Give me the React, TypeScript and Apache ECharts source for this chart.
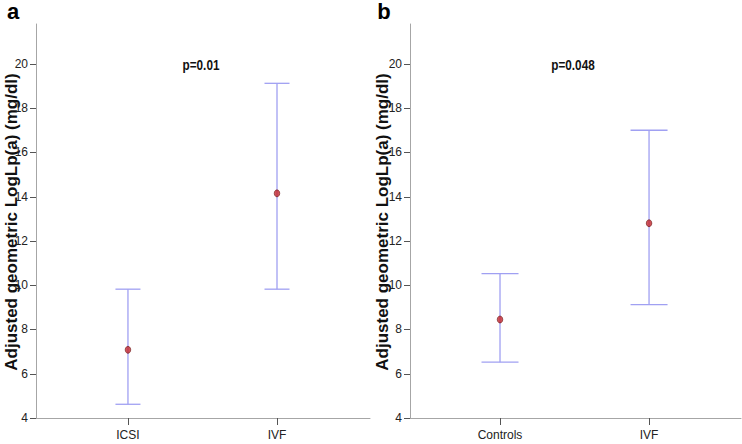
import React, { useEffect, useRef } from "react";
import * as echarts from "echarts";

const catsA = ["ICSI", "IVF"];
const meanA = [7.08, 14.15];
const lowA = [4.62, 9.82];
const highA = [9.82, 19.12];

const catsB = ["Controls", "IVF"];
const meanB = [8.45, 12.8];
const lowB = [6.52, 9.12];
const highB = [10.52, 17.0];

const yTicks = [4, 6, 8, 10, 12, 14, 16, 18, 20];
const pA = "p=0.01";
const pB = "p=0.048";
const yTitle = "Adjusted geometric LogLp(a) (mg/dl)";

const BAR = "#a0a0f2";
const AXIS = "#a6a6a6";
const SANS = "'Liberation Sans', Arial, sans-serif";
const X_RANGES = [
  [-0.617, 1.624],
  [-0.604, 1.617],
];

export default function App() {
  const ref = useRef<HTMLDivElement>(null);
  useEffect(() => {
    if (!ref.current) return;
    const chart = echarts.init(ref.current, null, { renderer: "svg" });

    const errRender = (half: number) => (params: any, api: any) => {
      const x = api.value(0);
      const lo = api.coord([x, api.value(1)]);
      const hi = api.coord([x, api.value(2)]);
      const style = { stroke: BAR, lineWidth: 1.3, fill: "none" };
      return {
        type: "group",
        children: [
          { type: "line", shape: { x1: lo[0], y1: lo[1], x2: hi[0], y2: hi[1] }, style },
          { type: "line", shape: { x1: lo[0] - half, y1: lo[1], x2: lo[0] + half, y2: lo[1] }, style },
          { type: "line", shape: { x1: hi[0] - half, y1: hi[1], x2: hi[0] + half, y2: hi[1] }, style },
        ],
      };
    };

    const xAxisBase = (cats: string[], idx: number) => ({
      type: "value",
      gridIndex: idx,
      min: X_RANGES[idx][0],
      max: X_RANGES[idx][1],
      splitLine: { show: false },
      axisLine: { show: true, onZero: false, lineStyle: { color: AXIS, width: 1 } },
      axisTick: { show: true, customValues: cats.map((_, i) => i), length: 7, lineStyle: { color: "#555" } },
      axisLabel: {
        show: true,
        customValues: cats.map((_, i) => i),
        formatter: (v: number) => cats[Math.round(v)] ?? "",
        fontFamily: SANS,
        fontSize: 12,
        color: "#222",
        margin: 11,
      },
    });

    const yAxisBase = (idx: number) => ({
      type: "value",
      gridIndex: idx,
      min: yTicks[0],
      max: 21.8,
      interval: 2,
      splitLine: { show: false },
      axisLine: { show: true, onZero: false, lineStyle: { color: AXIS, width: 1 } },
      axisTick: { show: false },
      axisLabel: {
        customValues: yTicks,
        fontFamily: SANS,
        fontSize: 12,
        color: "#222",
        margin: 8,
      },
    });

    const titleText = (x: number) => ({
      type: "text",
      x,
      y: 222,
      rotation: Math.PI / 2,
      style: {
        text: yTitle,
        font: `bold 17px ${SANS}`,
        fill: "#111",
        align: "center",
        verticalAlign: "middle",
      },
    });

    const pText = (x: number, text: string) => ({
      type: "text",
      x,
      y: 65,
      scaleX: 0.84,
      style: { text, font: `bold 14px ${SANS}`, fill: "#111", align: "center", verticalAlign: "middle" },
    });

    const baseGraphics: any[] = [
      { type: "text", x: 13, y: 11, style: { text: "a", font: `bold 22px ${SANS}`, fill: "#000", align: "center", verticalAlign: "middle" } },
      { type: "text", x: 384, y: 11, style: { text: "b", font: `bold 22px ${SANS}`, fill: "#000", align: "center", verticalAlign: "middle" } },
      pText(201, pA),
      pText(573, pB),
      titleText(11),
      titleText(382),
    ];

    chart.setOption({
      animation: false,
      backgroundColor: "#fff",
      grid: [
        { left: 36, top: 24, width: 334, height: 394 },
        { left: 410, top: 24, width: 331, height: 394 },
      ],
      xAxis: [xAxisBase(catsA, 0), xAxisBase(catsB, 1)],
      yAxis: [yAxisBase(0), yAxisBase(1)],
      series: [
        {
          type: "custom",
          xAxisIndex: 0,
          yAxisIndex: 0,
          renderItem: errRender(12.5),
          data: catsA.map((_, i) => [i, lowA[i], highA[i]]),
          z: 1,
        },
        {
          type: "custom",
          xAxisIndex: 1,
          yAxisIndex: 1,
          renderItem: errRender(18.5),
          data: catsB.map((_, i) => [i, lowB[i], highB[i]]),
          z: 1,
        },
        {
          type: "scatter",
          xAxisIndex: 0,
          yAxisIndex: 0,
          symbol: "circle",
          symbolSize: [5.5, 7],
          itemStyle: { color: "#c4262c", borderColor: "#6e1a1a", borderWidth: 0.8 },
          data: catsA.map((_, i) => [i, meanA[i]]),
          z: 3,
        },
        {
          type: "scatter",
          xAxisIndex: 1,
          yAxisIndex: 1,
          symbol: "circle",
          symbolSize: [5.5, 7],
          itemStyle: { color: "#c4262c", borderColor: "#6e1a1a", borderWidth: 0.8 },
          data: catsB.map((_, i) => [i, meanB[i]]),
          z: 3,
        },
      ],
      graphic: baseGraphics,
    });

    // y-axis ticks positioned through the axes' own scales
    const tickGraphics: any[] = [];
    [0, 1].forEach((g) => {
      yTicks.forEach((v) => {
        const p = chart.convertToPixel({ gridIndex: g } as any, [X_RANGES[g][0], v]) as number[];
        if (p && isFinite(p[0]) && isFinite(p[1])) {
          const y = Math.round(p[1]) + 0.5;
          tickGraphics.push({
            type: "line",
            shape: { x1: p[0] - 6, y1: y, x2: p[0], y2: y },
            style: { stroke: "#555", lineWidth: 1 },
            z: 10,
          });
        }
      });
    });
    chart.setOption({ graphic: [...baseGraphics, ...tickGraphics] }, { replaceMerge: ["graphic"] });

    return () => chart.dispose();
  }, []);
  return (
    <div
      ref={ref}
      style={{ position: "absolute", left: 0, top: 0, width: 742, height: 444, background: "#fff" }}
    />
  );
}
